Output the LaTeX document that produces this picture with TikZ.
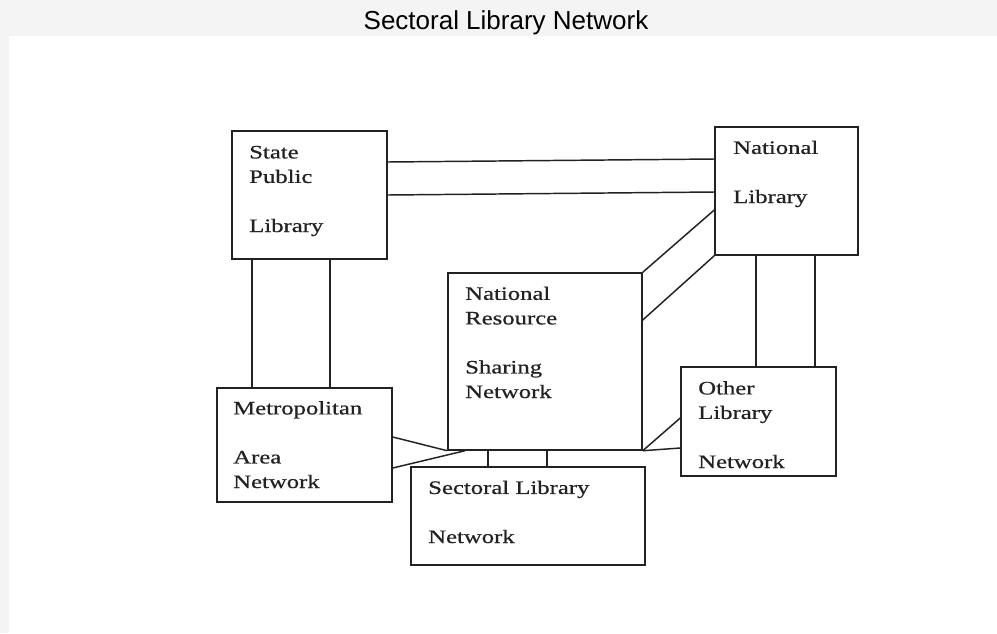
\documentclass[tikz,border=0pt]{standalone}
\usepackage{xcolor}
\usepackage{fontspec}
\usepackage{tikz}
\newfontfamily\titlefont{Liberation Sans}
\newfontfamily\libfont{Liberation Serif}[FakeStretch=1.3,FakeBold=0.6]
\definecolor{libgray}{HTML}{F4F4F4}
\definecolor{libink}{HTML}{222222}

\begin{document}
\begin{tikzpicture}[x=0.75pt,y=-0.75pt,
  libbox/.style={draw=libink,line width=1.1pt,inner sep=0pt},
  boxsize/.style 2 args={minimum width=#1*0.75pt,minimum height=#2*0.75pt},
  libtext/.style={anchor=base west,align=left,inner sep=0pt,text=libink,
    font=\libfont\fontsize{14.25pt}{18.4pt}\selectfont},
  link/.style={draw=libink,line width=1.1pt}]
  \useasboundingbox (0,0) rectangle (997,633);
  \fill[libgray] (0,0) rectangle (997,633);
  \fill[white] (9,36) rectangle (997,633);
  \node[font=\titlefont\fontsize{19.5pt}{23pt}\selectfont,anchor=base] (title) at (506,29) {Sectoral Library Network};

  % boxes
  \node[libbox,boxsize={155}{128}] (spl) at (309.5,195) {};
  \node[libbox,boxsize={143}{128}] (nl) at (786.5,191) {};
  \node[libbox,boxsize={194}{177}] (nrsn) at (545,361.5) {};
  \node[libbox,boxsize={175}{114}] (metro) at (304.5,445) {};
  \node[libbox,boxsize={155}{109}] (other) at (758.5,421.5) {};
  \node[libbox,boxsize={234}{98}] (slnet) at (528,516) {};

  % box texts (placed at the baseline of the last line)
  \node[libtext] (spl-t) at (249,232) {State\\Public\\[18.4pt]Library};
  \node[libtext] (nl-t) at (733,203) {National\\[18.4pt]Library};
  \node[libtext] (nrsn-t) at (465,398) {National\\Resource\\[18.4pt]Sharing\\Network};
  \node[libtext] (metro-t) at (233,488) {Metropolitan\\[18.4pt]Area\\Network};
  \node[libtext] (other-t) at (698,468) {Other\\Library\\[18.4pt]Network};
  \node[libtext] (slnet-t) at (428,543) {Sectoral Library\\[18.4pt]Network};

  % links
  \draw[link] (spl.east |- 0,162) -- (nl.west |- 0,159);
  \draw[link] (spl.east |- 0,195) -- (nl.west |- 0,192);
  \draw[link] (nl.west |- 0,210) -- (nrsn.north east);
  \draw[link] (nl.south west) -- (nrsn.east |- 0,320);
  \draw[link] (756,0 |- nl.south) -- (756,0 |- other.north);
  \draw[link] (815,0 |- nl.south) -- (815,0 |- other.north);
  \draw[link] (other.west |- 0,418) -- (nrsn.south east);
  \draw[link] (nrsn.south east) -- (other.west |- 0,448);
  \draw[link] (252,0 |- spl.south) -- (252,0 |- metro.north);
  \draw[link] (330,0 |- spl.south) -- (330,0 |- metro.north);
  \draw[link] (metro.east |- 0,437) -- (nrsn.south west);
  \draw[link] (metro.east |- 0,468) -- (465,0 |- nrsn.south);
  \draw[link] (488,0 |- nrsn.south) -- (488,0 |- slnet.north);
  \draw[link] (547,0 |- nrsn.south) -- (547,0 |- slnet.north);
\end{tikzpicture}
\end{document}
